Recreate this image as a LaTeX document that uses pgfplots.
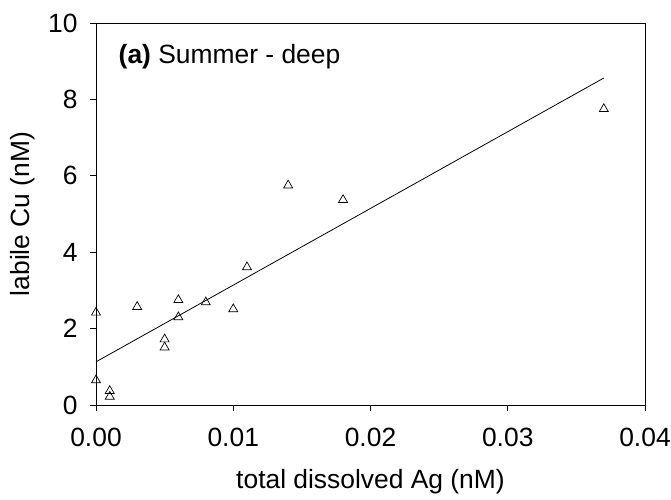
\documentclass[border=0pt]{standalone}
\usepackage{fontspec}
\setmainfont{Liberation Sans}
\usepackage{pgfplots}
\pgfplotsset{compat=1.18}

\begin{document}
\begin{tikzpicture}
\useasboundingbox (-96bp,-95bp) rectangle (575bp,405bp);
\begin{axis}[
    scale only axis,
    width=549bp, height=382bp,
    anchor=south west, at={(0,0)},
    xmin=0, xmax=0.04,
    ymin=0, ymax=10,
    xtick={0,0.01,0.02,0.03,0.04},
    ytick={0,2,4,6,8,10},
    scaled x ticks=false,
    /pgf/number format/assume math mode=true,
    tick label style={font=\fontsize{26.5}{30}\selectfont},
    x tick label style={/pgf/number format/fixed, /pgf/number format/fixed zerofill,
                        /pgf/number format/precision=2, yshift=-14bp},
    y tick label style={xshift=-9bp},
    label style={font=\fontsize{26.5}{30}\selectfont},
    xlabel={total dissolved Ag (nM)},
    ylabel={labile Cu (nM)},
    xlabel style={at={(axis description cs:0.5,-0.2016)}, anchor=center},
    ylabel style={at={(axis description cs:-0.133,0.5)}, anchor=center},
    tick pos=left,
    tick align=outside,
    major tick length=6bp,
    axis line style={line width=0.8bp},
    every tick/.style={black, line width=0.8bp},
    clip=false,
]
  % measured points
  \addplot[only marks, mark=triangle, mark size=5.2pt, mark options={line width=0.7bp, fill=white}]
    coordinates {
    (0.000,2.42)(0.000,0.65)(0.001,0.37)(0.001,0.22)(0.003,2.57)
    (0.005,1.72)(0.005,1.51)(0.006,2.75)(0.006,2.30)(0.008,2.69)
    (0.010,2.51)(0.011,3.61)(0.014,5.75)(0.018,5.37)(0.037,7.75)};
  % linear fit
  \addplot[black, line width=0.8bp, mark=none]
    coordinates {(0,1.13)(0.037,8.56)};
  \node[anchor=base west, font=\fontsize{26.5}{30}\selectfont]
    at (rel axis cs:0.035,0.895) {\textbf{(a)} Summer - deep};
\end{axis}
\end{tikzpicture}
\end{document}
